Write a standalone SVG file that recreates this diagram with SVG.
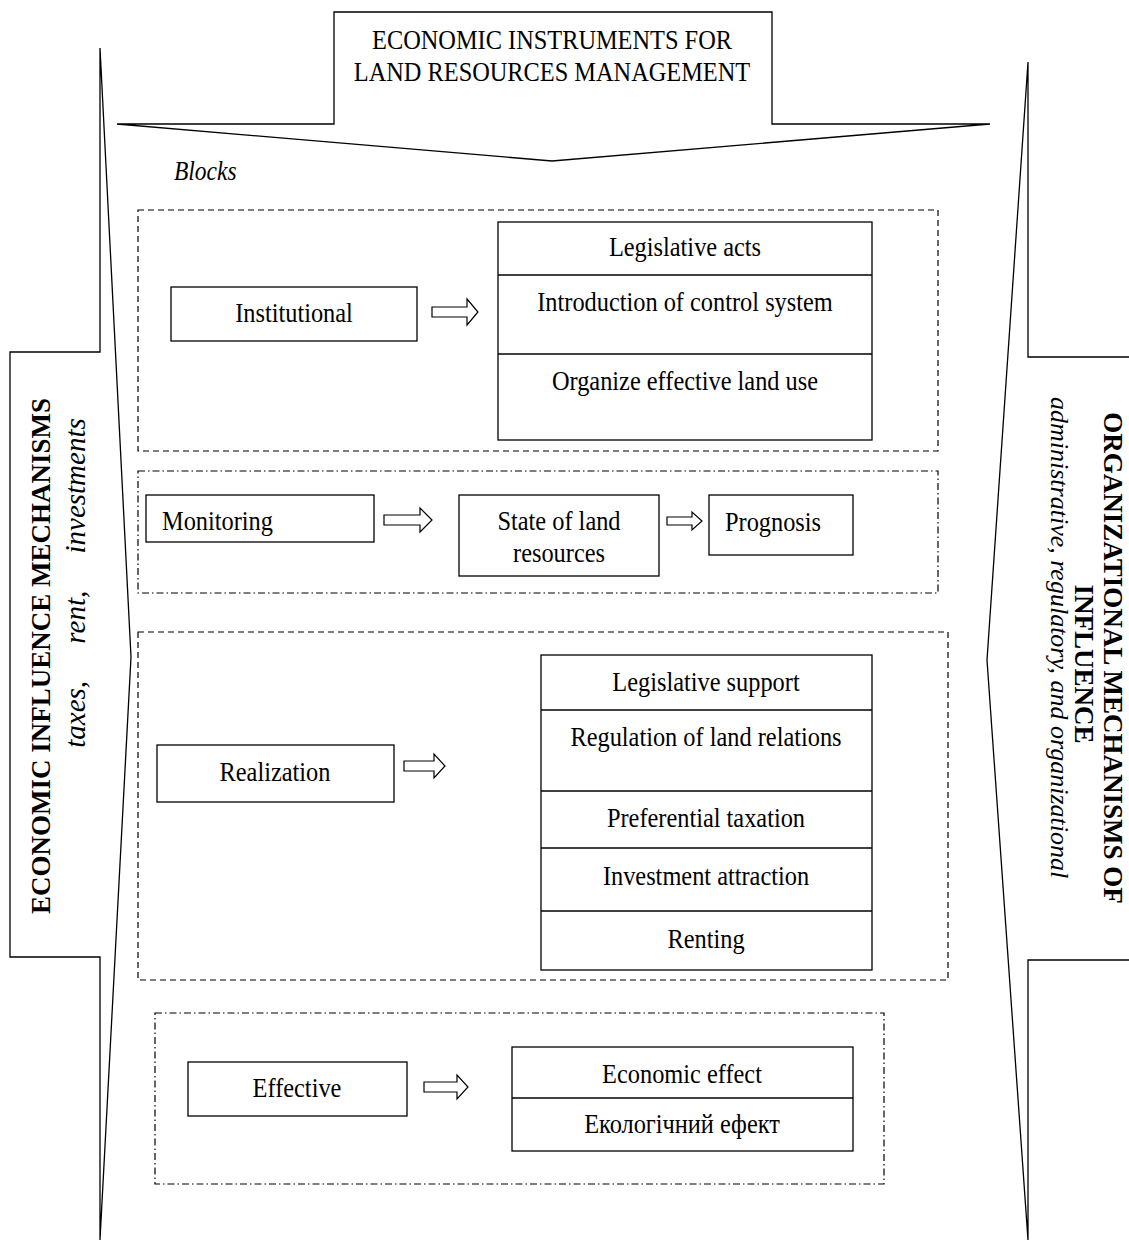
<svg xmlns="http://www.w3.org/2000/svg" width="1129" height="1254" viewBox="0 0 1129 1254">
<style>
  .ln{fill:none;stroke:#000;stroke-width:1.3}
  .box{fill:#fff;stroke:#000;stroke-width:1.3}
  .dash{fill:none;stroke:#000;stroke-width:1.2;stroke-dasharray:6 4}
  .dashdot{fill:none;stroke:#000;stroke-width:1.2;stroke-dasharray:7 3 1.5 3}
  .arr{fill:#fff;stroke:#000;stroke-width:1.2}
  text{font-family:"Liberation Serif","Times New Roman",serif;fill:#000}
  .t{font-size:28px;text-anchor:middle}
  .ts{font-size:28px;text-anchor:start}
  .it{font-style:italic}
  .vb{font-size:27px;font-weight:bold;text-anchor:middle}
  .vi{font-size:26px;font-style:italic}
</style>

<g id="frame">
  <polygon id="top-arrow" class="ln" points="334,12 772,12 772,124 990,124 552,161 117,124 334,124"/>
  <polygon id="left-arrow" class="ln" points="100,48 131,657 100,1240 100,957 10,957 10,352 100,352"/>
  <polyline id="right-arrow" class="ln" points="1129,357 1028,357 1028,62 987,660 1028,1240 1028,960 1129,960"/>
</g>

<g id="title">
  <text class="t" transform="matrix(0.87 0 0 1 552 49)">ECONOMIC INSTRUMENTS FOR</text>
  <text class="t" transform="matrix(0.87 0 0 1 552 81)">LAND RESOURCES MANAGEMENT</text>
</g>

<g id="left-label">
  <text class="vb" transform="translate(50 656) rotate(-90)">ECONOMIC INFLUENCE MECHANISMS</text>
  <text class="vi" text-anchor="middle" style="font-size:29px;word-spacing:30px" transform="translate(85 583) rotate(-90)">taxes, rent, investments</text>
</g>

<g id="right-label">
  <text class="vb" transform="translate(1104 658) rotate(90)">ORGANIZATIONAL MECHANISMS OF</text>
  <text class="vb" transform="translate(1075 664) rotate(90)">INFLUENCE</text>
  <text class="vi" text-anchor="start" transform="translate(1051 397) rotate(90)">administrative, regulatory, and organizational</text>
</g>

<text class="ts it" transform="matrix(0.87 0 0 1 174 180)" style="font-size:27px">Blocks</text>

<g id="containers">
  <rect id="block-institutional" class="dash" x="138" y="210" width="800" height="241"/>
  <rect id="block-monitoring" class="dashdot" x="138" y="471" width="800" height="122"/>
  <rect id="block-realization" class="dash" x="138" y="632" width="810" height="348"/>
  <rect id="block-effective" class="dashdot" x="155" y="1013" width="729" height="171"/>
</g>

<g id="node-institutional">
  <rect class="box" x="171" y="287" width="246" height="54"/>
  <text class="t" transform="matrix(0.87 0 0 1 294 322)">Institutional</text>
</g>
<g id="node-institutional-list">
  <rect class="box" x="498" y="222" width="374" height="218"/>
  <line class="ln" x1="498" y1="275" x2="872" y2="275"/>
  <line class="ln" x1="498" y1="354" x2="872" y2="354"/>
  <text class="t" transform="matrix(0.87 0 0 1 685 256)">Legislative acts</text>
  <text class="t" transform="matrix(0.87 0 0 1 685 311)">Introduction of control system</text>
  <text class="t" transform="matrix(0.87 0 0 1 685 390)">Organize effective land use</text>
</g>

<g id="node-monitoring">
  <rect class="box" x="146" y="495" width="228" height="47"/>
  <text class="ts" transform="matrix(0.87 0 0 1 162 530)">Monitoring</text>
</g>
<g id="node-state">
  <rect class="box" x="459" y="495" width="200" height="81"/>
  <text class="t" transform="matrix(0.87 0 0 1 559 530)">State of land</text>
  <text class="t" transform="matrix(0.87 0 0 1 559 562)">resources</text>
</g>
<g id="node-prognosis">
  <rect class="box" x="709" y="495" width="144" height="60"/>
  <text class="ts" transform="matrix(0.87 0 0 1 725 531)">Prognosis</text>
</g>

<g id="node-realization">
  <rect class="box" x="157" y="745" width="237" height="57"/>
  <text class="t" transform="matrix(0.87 0 0 1 275 781)">Realization</text>
</g>
<g id="node-realization-list">
  <rect class="box" x="541" y="655" width="331" height="315"/>
  <line class="ln" x1="541" y1="710" x2="872" y2="710"/>
  <line class="ln" x1="541" y1="791" x2="872" y2="791"/>
  <line class="ln" x1="541" y1="848" x2="872" y2="848"/>
  <line class="ln" x1="541" y1="911" x2="872" y2="911"/>
  <text class="t" transform="matrix(0.87 0 0 1 706 691)">Legislative support</text>
  <text class="t" transform="matrix(0.87 0 0 1 706 746)">Regulation of land relations</text>
  <text class="t" transform="matrix(0.87 0 0 1 706 827)">Preferential taxation</text>
  <text class="t" transform="matrix(0.87 0 0 1 706 885)">Investment attraction</text>
  <text class="t" transform="matrix(0.87 0 0 1 706 948)">Renting</text>
</g>

<g id="node-effective">
  <rect class="box" x="188" y="1062" width="219" height="54"/>
  <text class="t" transform="matrix(0.87 0 0 1 297 1097)">Effective</text>
</g>
<g id="node-effect-list">
  <rect class="box" x="512" y="1047" width="341" height="104"/>
  <line class="ln" x1="512" y1="1098" x2="853" y2="1098"/>
  <text class="t" transform="matrix(0.87 0 0 1 682 1083)">Economic effect</text>
  <text class="t" transform="matrix(0.87 0 0 1 682 1133)">Екологічний ефект</text>
</g>

<g id="connectors">
  <polygon class="arr" points="432,307 467,307 467,299 478,312 467,325 467,317 432,317"/>
  <polygon class="arr" points="384,515 420,515 420,508 432,520 420,532 420,525 384,525"/>
  <polygon class="arr" points="667,517 692,517 692,512 702,521 692,530 692,525 667,525"/>
  <polygon class="arr" points="404,761 434,761 434,754 445,766 434,778 434,771 404,771"/>
  <polygon class="arr" points="424,1082 457,1082 457,1075 468,1087 457,1099 457,1092 424,1092"/>
</g>
</svg>
